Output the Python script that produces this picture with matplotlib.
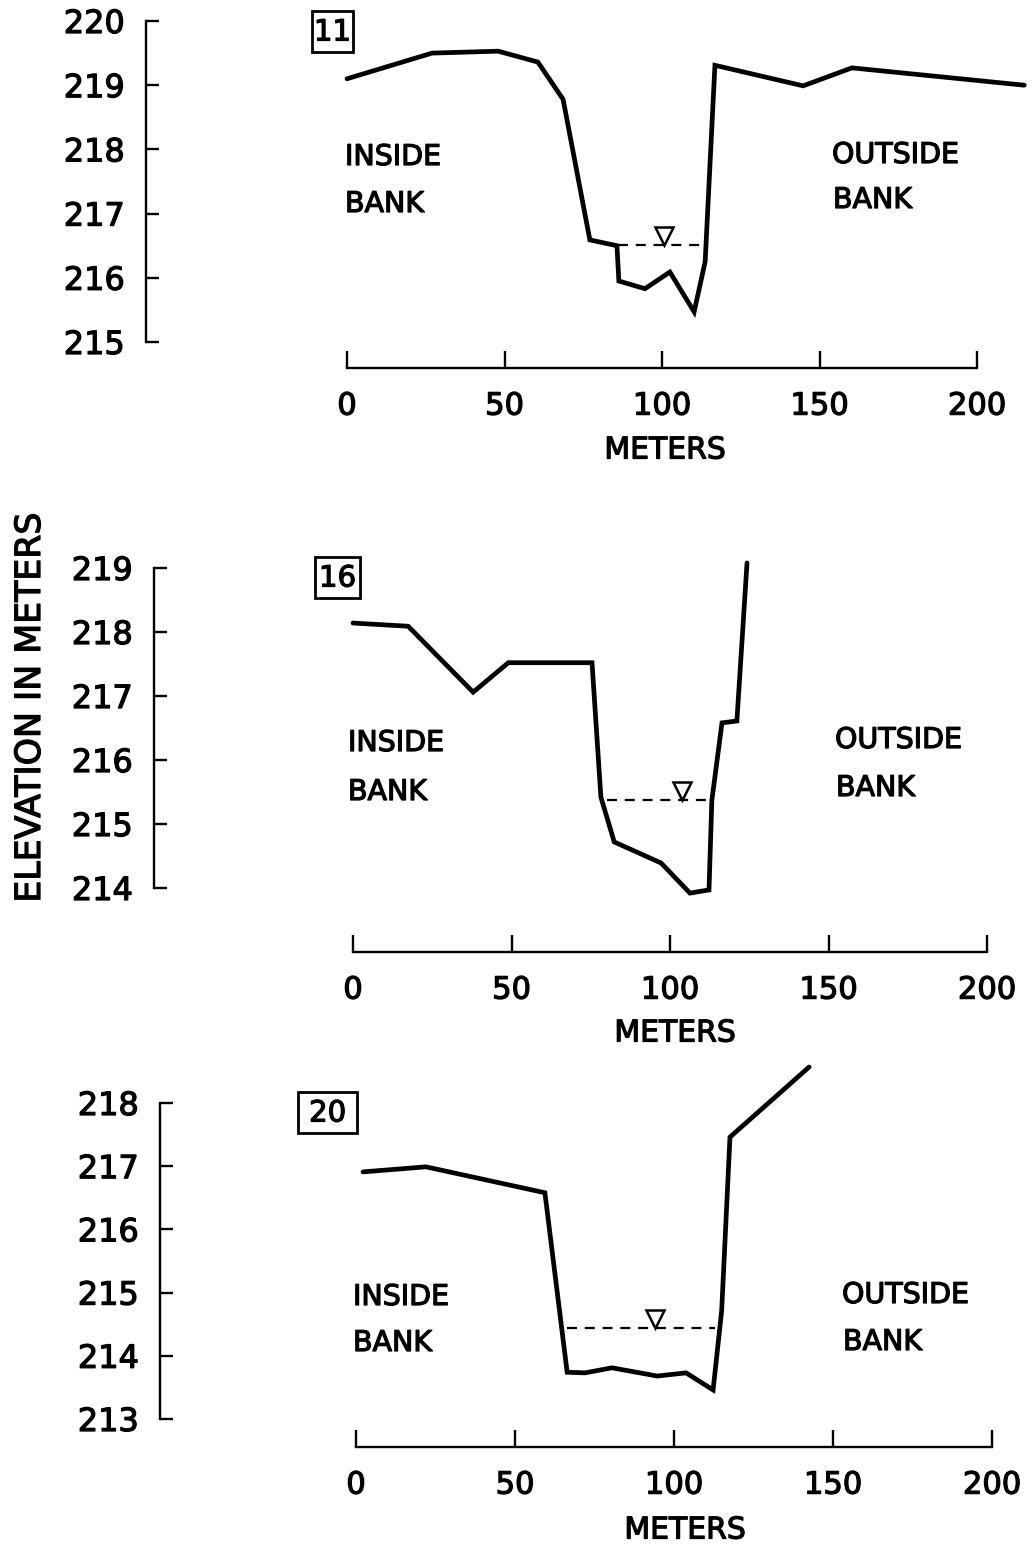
import matplotlib
matplotlib.use("Agg")
import matplotlib.pyplot as plt
import matplotlib.transforms as mtransforms
import matplotlib.patheffects as pe
from matplotlib.patches import Rectangle

# ---------------- data ----------------
x_ticks = [0, 50, 100, 150, 200]
x_tick_labels = ["0", "50", "100", "150", "200"]

# Section 11
s11_dist = [0, 27, 48, 60.6, 68.6, 77.1, 85.7, 86.3, 94.6, 102.5, 110.2, 113.7, 116.8, 144.8, 160.3, 215]
s11_elev = [219.10, 219.50, 219.53, 219.36, 218.78, 216.59, 216.50, 215.95, 215.83, 216.09, 215.47, 216.25, 219.31, 218.99, 219.27, 219.00]
s11_yticks = [215, 216, 217, 218, 219, 220]
s11_water = 216.51
s11_water_span = [86.0, 113.7]
s11_water_mark = 100.6

# Section 16
s16_dist = [0, 17.4, 37.9, 49, 75.4, 78.2, 82.4, 97.2, 106.3, 112.3, 113.2, 116.4, 121.1, 124.3]
s16_elev = [218.14, 218.09, 217.06, 217.52, 217.52, 215.42, 214.72, 214.39, 213.92, 213.97, 215.37, 216.58, 216.61, 219.08]
s16_yticks = [214, 215, 216, 217, 218, 219]
s16_water = 215.37
s16_water_span = [80.1, 112.6]
s16_water_mark = 103.8

# Section 20
s20_dist = [2.2, 22, 59.4, 66.4, 72, 80.5, 94.7, 103.8, 112.3, 115, 117.6, 142.5]
s20_elev = [216.91, 216.99, 216.58, 213.74, 213.73, 213.81, 213.68, 213.73, 213.46, 214.72, 217.46, 218.57]
s20_yticks = [213, 214, 215, 216, 217, 218]
s20_water = 214.44
s20_water_span = [66.4, 112.9]
s20_water_mark = 94.0

section_names = ["11", "16", "20"]

# ---------------- layout (pixels) ----------------
W, H, DPI = 1036, 1547, 100
fig = plt.figure(figsize=(W / DPI, H / DPI), dpi=DPI)
fig.patch.set_facecolor("white")

FONT = "DejaVu Sans"
BOLDISH = [pe.withStroke(linewidth=0.9, foreground="black")]

def fx(px):
    return px / W

def fy(py):
    return 1 - py / H

def label(x, y, s, size, **kw):
    t = fig.text(fx(x), fy(y), s, fontsize=size, family=FONT, **kw)
    t.set_path_effects(BOLDISH)
    return t

panels = [
    dict(dist=s11_dist, elev=s11_elev, yticks=s11_yticks, water=s11_water,
         span=s11_water_span, mark=s11_water_mark, name=section_names[0],
         x0=347, sx=3.15, yref=215, yref_px=342, sy=64.2, spine_px=146, xaxis_px=368,
         band=(0, 475), box=(312, 11, 41, 41),
         inside=(345, 157, 204), outside=(832, 155, 200), meters=(665, 450)),
    dict(dist=s16_dist, elev=s16_elev, yticks=s16_yticks, water=s16_water,
         span=s16_water_span, mark=s16_water_mark, name=section_names[1],
         x0=353, sx=3.17, yref=214, yref_px=888, sy=64.0, spine_px=154, xaxis_px=952,
         band=(500, 1060), box=(315, 557, 45, 41),
         inside=(348, 743, 792), outside=(835, 740, 788), meters=(675, 1033)),
    dict(dist=s20_dist, elev=s20_elev, yticks=s20_yticks, water=s20_water,
         span=s20_water_span, mark=s20_water_mark, name=section_names[2],
         x0=356, sx=3.18, yref=213, yref_px=1419, sy=63.2, spine_px=160, xaxis_px=1447,
         band=(1060, 1547), box=(298, 1092, 59, 41),
         inside=(353, 1297, 1343), outside=(842, 1295, 1342), meters=(685, 1530)),
]

for p in panels:
    top, bot = p["band"]
    ax = fig.add_axes([0, 1 - bot / H, 1, (bot - top) / H])
    xlim = ((0 - p["x0"]) / p["sx"], (W - p["x0"]) / p["sx"])
    ylim = (p["yref"] + (p["yref_px"] - bot) / p["sy"],
            p["yref"] + (p["yref_px"] - top) / p["sy"])
    ax.set_xlim(*xlim)
    ax.set_ylim(*ylim)
    ax.patch.set_alpha(0)

    for s in ["top", "right"]:
        ax.spines[s].set_visible(False)
    spine_x = (p["spine_px"] - p["x0"]) / p["sx"]
    axis_y = p["yref"] + (p["yref_px"] - p["xaxis_px"]) / p["sy"]
    ax.spines["left"].set_position(("data", spine_x))
    ax.spines["left"].set_bounds(min(p["yticks"]), max(p["yticks"]))
    ax.spines["bottom"].set_position(("data", axis_y))
    ax.spines["bottom"].set_bounds(0, 200)
    for s in ["left", "bottom"]:
        ax.spines[s].set_linewidth(1.7)
        ax.spines[s].set_color("black")

    ax.set_yticks(p["yticks"])
    ax.set_yticklabels([str(v) for v in p["yticks"]])
    ax.set_xticks(x_ticks)
    ax.set_xticklabels(x_tick_labels)
    ax.tick_params(axis="y", direction="in", length=9, width=1.7, pad=15,
                   labelsize=23, colors="black")
    ax.tick_params(axis="x", direction="in", length=12, width=1.7, pad=17,
                   labelsize=22, colors="black")
    for lab in ax.get_xticklabels() + ax.get_yticklabels():
        lab.set_fontfamily(FONT)
        lab.set_path_effects(BOLDISH)

    # profile
    ax.plot(p["dist"], p["elev"], color="black", lw=3.4, solid_joinstyle="miter",
            solid_capstyle="round", clip_on=False)
    # water surface
    ax.plot(p["span"], [p["water"], p["water"]], color="black", lw=1.6,
            linestyle=(0, (4.5, 3.5)), clip_on=False)
    ms = 13
    trans = ax.transData + mtransforms.ScaledTranslation(0, ms / 2 / 72, fig.dpi_scale_trans)
    ax.plot([p["mark"]], [p["water"]], marker="v", ms=ms, mfc="white", mec="black",
            mew=1.8, transform=trans, clip_on=False, linestyle="none")

    # labels
    ix, iy1, iy2 = p["inside"]
    label(ix, iy1, "INSIDE", 20.5, ha="left", va="center")
    label(ix, iy2, "BANK", 20.5, ha="left", va="center")
    ox, oy1, oy2 = p["outside"]
    label(ox, oy1, "OUTSIDE", 20.5, ha="left", va="center")
    label(ox + 1, oy2, "BANK", 20.5, ha="left", va="center")
    mx, my = p["meters"]
    label(mx, my, "METERS", 21.5, ha="center", va="center")

    # section box
    bx, by, bw, bh = p["box"]
    fig.patches.append(Rectangle((fx(bx), fy(by + bh)), bw / W, bh / H, transform=fig.transFigure,
                                 fill=False, lw=2.0, edgecolor="black"))
    label(bx + bw / 2, by + bh / 2 + 1, p["name"], 21, ha="center", va="center")

label(30, 708, "ELEVATION IN METERS", 25, rotation=90, ha="center", va="center")

fig.savefig("out.png", dpi=DPI, facecolor="white")
